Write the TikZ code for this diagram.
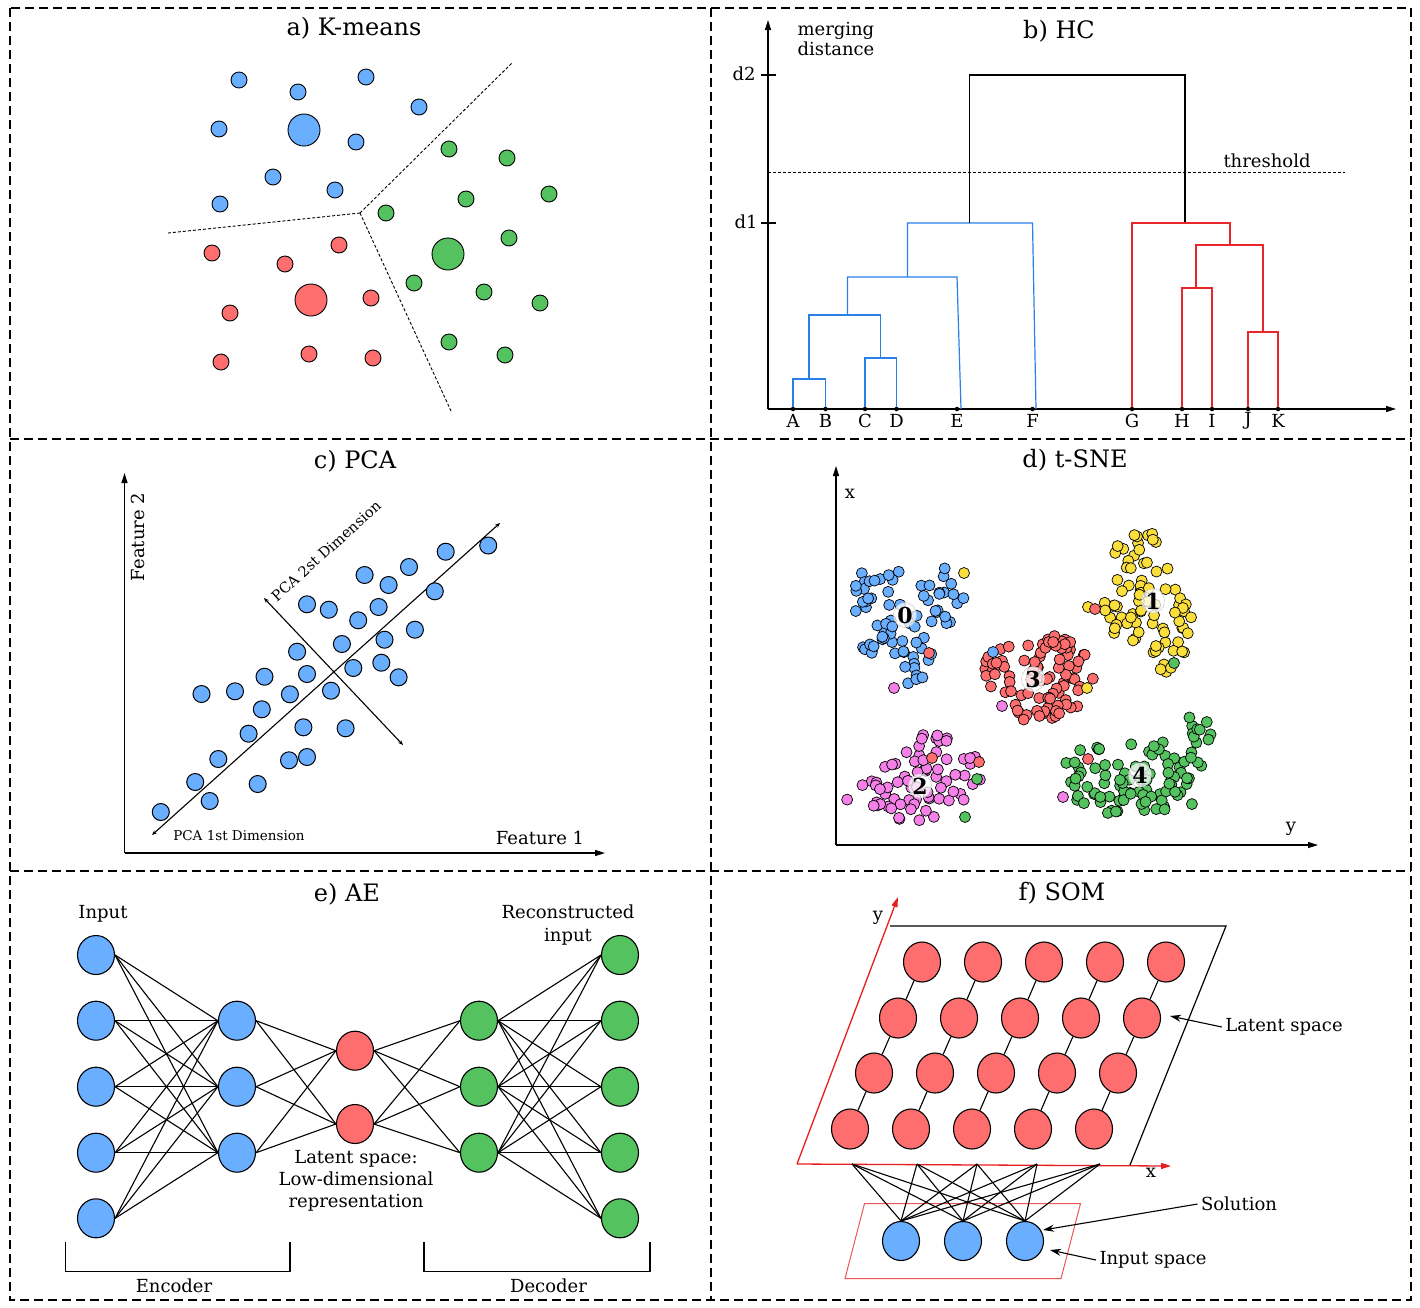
\documentclass[tikz,border=0pt]{standalone}
\usepackage{fontspec}
\setmainfont{DejaVu Serif}
\usetikzlibrary{arrows.meta,shapes.geometric}
\definecolor{cblue}{RGB}{106,174,255}
\definecolor{cred}{RGB}{255,110,110}
\definecolor{cgreen}{RGB}{83,194,95}
\definecolor{cyel}{RGB}{250,222,60}
\definecolor{cpink}{RGB}{244,128,232}
\definecolor{hblue}{RGB}{40,128,232}
\definecolor{hred}{RGB}{232,38,44}
\definecolor{sred}{RGB}{232,30,30}
\newcommand{\tcluster}[7]{%
  \foreach \i in {1,...,#7}{%
    \pgfmathsetmacro{\ta}{360*rnd}%
    \pgfmathsetmacro{\tr}{sqrt(rnd)}%
    \node[tdot, fill=#2] (#1\i) at ({#3+#5*\tr*cos(\ta)},{#4+#6*\tr*sin(\ta)}) {};
  }}
\begin{document}
\begin{tikzpicture}[x=1pt,y=-1pt,
  panelframe/.style={line width=1.1pt, dash pattern=on 9pt off 5pt},
  ttl/.style={font=\fontsize{24}{28}\selectfont},
  lbl/.style={font=\fontsize{18}{21}\selectfont},
  sml/.style={font=\fontsize{13.5}{16}\selectfont},
  kdot/.style={circle, draw=black, line width=0.9pt, minimum size=16pt, inner sep=0pt},
  kbig/.style={circle, draw=black, line width=0.9pt, minimum size=32pt, inner sep=0pt},
  fine/.style={line width=0.9pt, dash pattern=on 3pt off 2pt},
  hcb/.style={hblue, line width=1.2pt},
  hcr/.style={hred, line width=1.2pt},
  hck/.style={black, line width=1.2pt},
  leaf/.style={circle, fill=black, inner sep=0pt, minimum size=4.5pt},
  axis/.style={line width=1.2pt, -{Triangle[length=10pt,width=6pt]}},
  pdot/.style={circle, draw=black, fill=cblue, line width=1pt, minimum size=17pt, inner sep=0pt},
  pcaaxis/.style={line width=1.1pt, {Stealth[length=5pt,width=4pt]}-{Stealth[length=5pt,width=4pt]}},
  tdot/.style={circle, draw=black, line width=0.7pt, minimum size=11pt, inner sep=0pt},
  tlab/.style={ellipse, draw=black!25, fill=white, fill opacity=0.75, text opacity=1, inner sep=0.5pt,
               font=\bfseries\fontsize{22}{22}\selectfont},
  aenode/.style={ellipse, draw=black, line width=1.1pt, minimum width=37pt, minimum height=39pt, inner sep=0pt},
  conn/.style={line width=1.1pt},
  somnode/.style={ellipse, draw=black, fill=cred, line width=1.1pt, minimum width=37pt, minimum height=40pt, inner sep=0pt},
  annot/.style={line width=1.1pt, -{Stealth[length=11pt,width=7pt]}}
]
\useasboundingbox (0,0) rectangle (1420,1307);
\fill[white] (0,0) rectangle (1420,1307);

% ---------- frames ----------
\draw[panelframe] (10,8) rectangle (1411,1300);
\draw[panelframe] (711,8) -- (711,1300);
\draw[panelframe] (10,439) -- (1411,439);
\draw[panelframe] (10,871) -- (1411,871);

% ---------- a) K-means ----------
\node[ttl] (ta) at (354,28) {a) K-means};
\coordinate (kc) at (360,213);
\coordinate (k1) at (513,62);
\coordinate (k2) at (168,233);
\coordinate (k3) at (451,411);
\draw[fine] (kc) -- (k1);
\draw[fine] (kc) -- (k2);
\draw[fine] (kc) -- (k3);
\foreach \x/\y [count=\i] in {239/80,298/92,366/77,419/107,219/129,356/142,273/177,335/190,220/204}
  \node[kdot, fill=cblue] (kb\i) at (\x,\y) {};
\node[kbig, fill=cblue] (kbc) at (304,130) {};
\foreach \x/\y [count=\i] in {449/149,507/158,549/194,466/199,386/213,509/238,414/283,484/292,540/303,449/342,505/355}
  \node[kdot, fill=cgreen] (kg\i) at (\x,\y) {};
\node[kbig, fill=cgreen] (kgc) at (448,254) {};
\foreach \x/\y [count=\i] in {212/253,285/264,339/245,230/313,371/298,221/362,309/354,373/358}
  \node[kdot, fill=cred] (kr\i) at (\x,\y) {};
\node[kbig, fill=cred] (krc) at (311,300) {};

% ---------- b) HC ----------
\node[ttl] (tb) at (1059,31) {b) HC};
\coordinate (hO) at (768,409);
\coordinate (hY) at (768,20);
\coordinate (hX) at (1396,409);
\draw[axis] (hO) -- (hY);
\draw[axis] (hO) -- (hX);
\node[lbl, align=left, anchor=west, font=\fontsize{18}{20}\selectfont] (mdist) at (794,39) {merging\\distance};
\draw[line width=1.2pt] (761,75) -- (776,75);
\draw[line width=1.2pt] (761,223) -- (776,223);
\node[lbl] (d2) at (744,74) {d2};
\node[lbl] (d1) at (746,222) {d1};
\draw[fine] (768,172) -- (1345,172);
\node[lbl] (thr) at (1267,161) {threshold};
\foreach \n/\x in {A/793,B/825.5,C/865,D/896.5,E/957,F/1032.5,G/1132,H/1182,I/1212,J/1248,K/1278}{
  \node[leaf] (l\n) at (\x,409) {};
  \node[lbl] (t\n) at (\x,421) {\n};
}
% blue cluster
\draw[hcb] (lA) -- (793,379) -- (825.5,379) -- (lB);
\draw[hcb] (lC) -- (865,358) -- (896.5,358) -- (lD);
\draw[hcb] (809,379) -- (809,315) -- (880.5,315) -- (880.5,358);
\draw[hcb] (847.5,315) -- (847.5,277) -- (957,277) -- (961,409);
\draw[hcb] (907.5,277) -- (907.5,223) -- (1032.5,223) -- (1036,409);
% black top
\draw[hck] (969.5,223) -- (969.5,75) -- (1185,75) -- (1185,223);
% red cluster
\draw[hcr] (lG) -- (1132,223) -- (1230,223) -- (1230,245);
\draw[hcr] (1196,288) -- (1196,245) -- (1263,245) -- (1263,332);
\draw[hcr] (lH) -- (1182,288) -- (1212,288) -- (lI);
\draw[hcr] (lJ) -- (1248,332) -- (1278,332) -- (lK);

% ---------- c) PCA ----------
\node[ttl] (tc) at (355,461) {c) PCA};
\coordinate (pO) at (124.5,853);
\coordinate (pY) at (124.5,473);
\coordinate (pX) at (605,853);
\draw[axis] (pO) -- (pY);
\draw[axis] (pO) -- (pX);
\node[lbl, rotate=90] (f2) at (138,537) {Feature 2};
\node[lbl] (f1) at (540,838) {Feature 1};
\coordinate (pc1a) at (152,835);
\coordinate (pc1b) at (500,523);
\coordinate (pc2a) at (264,598);
\coordinate (pc2b) at (403,745);
\draw[pcaaxis] (pc1a) -- (pc1b);
\draw[pcaaxis] (pc2a) -- (pc2b);
\node[sml] (pc1l) at (239,836) {PCA 1st Dimension};
\node[font=\fontsize{14.5}{16}\selectfont, rotate=42] (pc2l) at (326,551) {PCA 2st Dimension};
\foreach \x/\y [count=\i] in {160.8/812,195.2/782,209.7/801,218.3/759,248.6/733.7,261.8/709.3,257.7/784,201.5/694,235/691.3,264.5/676.7,289.9/694.3,297.1/651.7,307/674,303.4/727.3,289/760.3,307/757,331/690.7,345.6/728.3,307/604.3,328.8/609.7,341.9/644,353.3/668,358.2/620.3,378.6/607,384.5/639.7,381.3/662.7,398.6/677.3,364.6/575,388.6/585,409/567,414.9/629.7,434.8/591.3,445.7/551.7,488.2/545.5}
  \node[pdot] (pp\i) at (\x,\y) {};

% ---------- d) t-SNE ----------
\node[ttl] (td) at (1075,460) {d) t-SNE};
\coordinate (tO) at (836,845);
\coordinate (tY) at (836,466);
\coordinate (tX) at (1318,845);
\draw[axis] (tO) -- (tY);
\draw[axis] (tO) -- (tX);
\node[lbl] (tsx) at (850,494) {x};
\node[lbl] (tsy) at (1291,829) {y};
\pgfmathsetseed{11}
% cluster 0
\tcluster{za}{cblue}{882}{614}{38}{50}{42}
\tcluster{zb}{cblue}{941}{598}{24}{34}{20}
\tcluster{zc}{cblue}{912}{658}{20}{26}{14}
% cluster 1
\tcluster{ya}{cyel}{1140}{563}{32}{32}{24}
\tcluster{yb}{cyel}{1150}{615}{52}{30}{42}
\tcluster{yc}{cyel}{1172}{652}{26}{24}{14}
% cluster 3
\tcluster{ra}{cred}{1035}{677}{58}{44}{72}
\tcluster{rb}{cred}{1052}{642}{20}{14}{9}
\tcluster{rc}{cred}{1058}{712}{22}{16}{9}
% cluster 2
\tcluster{pa}{cpink}{932}{772}{54}{38}{50}
\tcluster{pb}{cpink}{872}{795}{27}{15}{13}
\tcluster{pc}{cpink}{915}{814}{27}{14}{9}
% cluster 4
\tcluster{ga}{cgreen}{1125}{775}{65}{42}{72}
\tcluster{gb}{cgreen}{1197}{742}{16}{28}{14}
\tcluster{gc}{cgreen}{1165}{802}{38}{19}{13}
% outliers
\foreach \x/\y/\c [count=\i] in {964/573/cyel,929/653/cred,894/688/cpink,1088/607/cyel,1095/609/cred,1174/663/cgreen,993/652/cblue,1087/688/cyel,1002/706/cpink,932/758/cred,979/762/cred,977/779/cgreen,965/817/cgreen,1088/759/cred,1063/797/cpink}
  \node[tdot, fill=\c] (ou\i) at (\x,\y) {};
\node[tlab] (tl0) at (905,615) {0};
\node[tlab] (tl1) at (1153,601) {1};
\node[tlab] (tl3) at (1033,679) {3};
\node[tlab] (tl2) at (920,786) {2};
\node[tlab] (tl4) at (1140,775) {4};

% ---------- e) AE ----------
\node[ttl] (te) at (347,894) {e) AE};
\node[lbl] (inlbl) at (103,914) {Input};
\node[lbl, align=center, font=\fontsize{18}{23}\selectfont] (reclbl) at (568,925.5) {Reconstructed\\input};
\foreach \y [count=\i] in {955,1020.7,1086.7,1152.7,1218.3}{
  \node[aenode, fill=cblue] (in\i) at (96,\y) {};
  \node[aenode, fill=cgreen] (o\i) at (620,\y) {};
}
\foreach \y [count=\i] in {1020.7,1086.7,1152.7}{
  \node[aenode, fill=cblue] (h\i) at (237,\y) {};
  \node[aenode, fill=cgreen] (g\i) at (479,\y) {};
}
\node[aenode, fill=cred] (l1) at (355,1050.7) {};
\node[aenode, fill=cred] (l2) at (355,1124) {};
\foreach \i in {1,...,5} \foreach \j in {1,...,3} \draw[conn] (in\i.east) -- (h\j.west);
\foreach \i in {1,...,3} \foreach \j in {1,2} \draw[conn] (h\i.east) -- (l\j.west);
\foreach \i in {1,2} \foreach \j in {1,...,3} \draw[conn] (l\i.east) -- (g\j.west);
\foreach \i in {1,...,3} \foreach \j in {1,...,5} \draw[conn] (g\i.east) -- (o\j.west);
\node[lbl, align=center, font=\fontsize{18}{22}\selectfont] (latlbl) at (356,1181) {Latent space:\\Low-dimensional\\representation};
\draw[line width=1.1pt] (65.7,1242) -- (65.7,1271.7) -- (290,1271.7) -- (290,1242);
\draw[line width=1.1pt] (424,1242) -- (424,1271.7) -- (650,1271.7) -- (650,1242);
\node[lbl] (enc) at (174,1286) {Encoder};
\node[lbl] (dec) at (548.5,1286) {Decoder};

% ---------- f) SOM ----------
\node[ttl] (tf) at (1062,893) {f) SOM};
\coordinate (sO) at (797,1164);
\coordinate (sY) at (898,897);
\coordinate (sX) at (1171,1166);
\coordinate (sTL) at (890,926);
\coordinate (sTR) at (1226,926);
\coordinate (sBR) at (1130,1165);
\draw[line width=1.2pt] (sTL) -- (sTR) -- (sBR);
\draw[sred, line width=1.3pt, -{Triangle[length=10pt,width=6pt]}] (sO) -- (sY);
\draw[sred, line width=1.3pt, -{Triangle[length=10pt,width=6pt]}] (sO) -- (sX);
\node[lbl] (sylab) at (878,918) {y};
\node[lbl] (sxlab) at (1151,1173) {x};
\foreach \r/\y/\x in {1/962/922,2/1018/898,3/1073/874,4/1129/850}{
  \foreach \c in {1,...,5}{
    \node[somnode] (s\r\c) at ({\x+61*(\c-1)},\y) {};
  }
}
\foreach \r in {1,...,4}
  \foreach \c [evaluate=\c as \cn using int(\c+1)] in {1,...,4}
    \draw[line width=1.1pt] (s\r\c) -- (s\r\cn);
\foreach \r [evaluate=\r as \rn using int(\r+1)] in {1,...,3}
  \foreach \c in {1,...,5}
    \draw[line width=1.1pt] (s\r\c) -- (s\rn\c);
\coordinate (ipA) at (864.5,1203.5);
\coordinate (ipB) at (1080.5,1203.5);
\coordinate (ipC) at (1061,1278.5);
\coordinate (ipD) at (845,1278.5);
\draw[sred!75, line width=1pt] (ipA) -- (ipB) -- (ipC) -- (ipD) -- cycle;
\foreach \x [count=\i] in {852,917,977,1037,1100}
  \coordinate (xa\i) at (\x,1164);
\foreach \x [count=\i] in {901,963,1025}
  \node[aenode, fill=cblue] (si\i) at (\x,1241) {};
\foreach \i in {1,...,3} \foreach \j in {1,...,5} \draw[conn] (si\i.north) -- (xa\j);
\node[lbl] (latsp) at (1284,1027) {Latent space};
\node[lbl] (solu) at (1239,1204) {Solution};
\node[lbl] (insp) at (1153,1260) {Input space};
\coordinate (latTip) at (1170,1016);
\coordinate (solTip) at (1043,1230);
\coordinate (insTip) at (1050,1250);
\draw[annot] (latsp.west) -- (latTip);
\draw[annot] (solu.west) -- (solTip);
\draw[annot] (insp.west) -- (insTip);
\end{tikzpicture}
\end{document}
